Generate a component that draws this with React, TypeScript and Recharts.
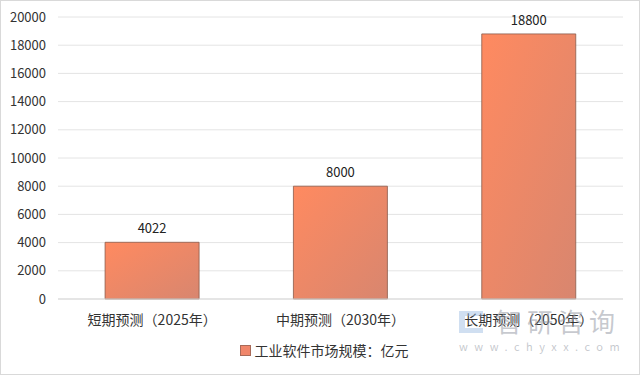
import { BarChart, Bar, XAxis, YAxis, CartesianGrid, LabelList, Legend } from 'recharts';

// 工业软件市场规模预测（亿元）
const categories = ['短期预测（2025年）', '中期预测（2030年）', '长期预测（2050年）'];
const marketSize = [4022, 8000, 18800];
const yTicks = [0, 2000, 4000, 6000, 8000, 10000, 12000, 14000, 16000, 18000, 20000];
const seriesName = '工业软件市场规模：亿元';

const data = categories.map((name, i) => ({ name, value: marketSize[i] }));

const FONT = '"Noto Sans CJK SC", "Microsoft YaHei", sans-serif';

const LegendBox = () => (
  <div style={{ display: 'flex', alignItems: 'center', justifyContent: 'center', fontFamily: FONT, fontSize: 14, color: '#333', paddingLeft: 24 }}>
    <span style={{ width: 9, height: 9, background: '#f0866a', border: '1px solid #a86a58', marginRight: 4 }} />
    {seriesName}
  </div>
);

export default function App() {
  return (
    <div style={{ position: 'absolute', left: 0, top: 0, width: 640, height: 375, background: '#fff', boxSizing: 'border-box', border: '1px solid #d9d9d9', overflow: 'hidden' }}>
      <BarChart
        width={638}
        height={373}
        data={data}
        margin={{ top: 16, right: 16, left: 0, bottom: 0 }}
        barCategoryGap="25%"
      >
        <defs>
          <linearGradient id="barFill" x1="0" y1="0" x2="1" y2="1">
            <stop offset="0%" stopColor="#ff8a60" />
            <stop offset="100%" stopColor="#d8866f" />
          </linearGradient>
        </defs>
        <CartesianGrid stroke="#e4e4e4" vertical={false} />
        <XAxis
          dataKey="name"
          axisLine={{ stroke: '#d9d9d9' }}
          tickLine={false}
          tick={{ fill: '#333', fontSize: 14, fontFamily: FONT }}
          tickMargin={10}
          height={41}
        />
        <YAxis
          domain={[0, 20000]}
          ticks={yTicks}
          axisLine={false}
          tickLine={false}
          tickSize={0}
          tickMargin={12}
          width={57}
          tick={{ fill: '#333', fontSize: 13, fontFamily: FONT }}
        />
        <Legend verticalAlign="bottom" height={34} content={<LegendBox />} />
        <Bar dataKey="value" fill="url(#barFill)" stroke="#8a5a4a" strokeWidth={0.8} isAnimationActive={false}>
          <LabelList dataKey="value" position="top" offset={9} style={{ fill: '#222', fontSize: 13, fontFamily: FONT }} />
        </Bar>
      </BarChart>
      {/* watermark */}
      <div style={{ position: 'absolute', left: 458, top: 310, width: 24, height: 22, borderLeft: '6px solid rgba(150,185,225,0.45)', borderTop: '5px solid rgba(150,185,225,0.45)', borderBottom: '5px solid rgba(150,185,225,0.45)', boxSizing: 'border-box' }} />
      <div style={{ position: 'absolute', left: 458, top: 307, fontFamily: FONT, color: 'rgba(150,155,165,0.55)', lineHeight: 1 }}>
        <div style={{ fontSize: 26, letterSpacing: 5, paddingLeft: 37 }}>智研咨询</div>
        <div style={{ fontSize: 11, letterSpacing: 6.5, marginTop: 7 }}>www.chyxx.com</div>
      </div>
    </div>
  );
}
